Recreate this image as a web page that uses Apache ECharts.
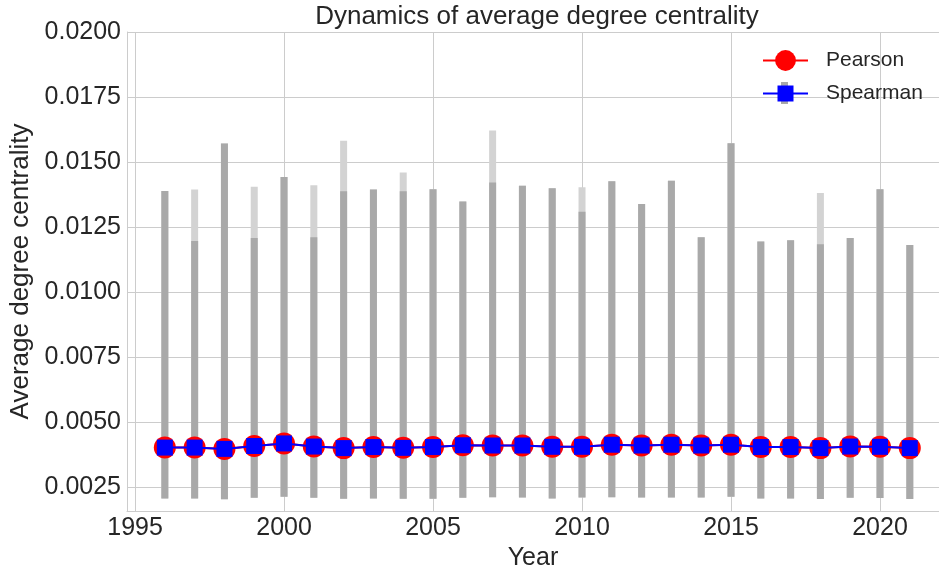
<!DOCTYPE html>
<html>
<head>
<meta charset="utf-8">
<script src="https://cdn.jsdelivr.net/npm/echarts@6/dist/echarts.min.js"></script>
<style>html,body{margin:0;padding:0;background:#fff;}#main{width:939px;height:571px;}</style>
</head>
<body>
<div id="main"></div>
<script>
const years = [1996,1997,1998,1999,2000,2001,2002,2003,2004,2005,2006,2007,2008,2009,2010,2011,2012,2013,2014,2015,2016,2017,2018,2019,2020,2021];
const pearsonMean = [0.00401,0.00401,0.00396,0.00407,0.00417,0.00405,0.00399,0.00403,0.00400,0.00403,0.00410,0.00409,0.00409,0.00404,0.00404,0.00412,0.00409,0.00412,0.00409,0.00412,0.00403,0.00403,0.00399,0.00405,0.00404,0.00399];
const spearmanMean = [0.00401,0.00401,0.00396,0.00407,0.00417,0.00405,0.00399,0.00403,0.00400,0.00403,0.00410,0.00409,0.00409,0.00404,0.00404,0.00412,0.00409,0.00412,0.00409,0.00412,0.00403,0.00403,0.00399,0.00405,0.00404,0.00399];
const pearsonLow = [0.00205,0.00205,0.00202,0.00208,0.00212,0.00208,0.00204,0.00205,0.00204,0.00204,0.00208,0.00210,0.00209,0.00205,0.00209,0.00210,0.00209,0.00209,0.00209,0.00212,0.00205,0.00205,0.00203,0.00208,0.00207,0.00203];
const pearsonHigh = [0.01388,0.01394,0.01571,0.01405,0.01442,0.01410,0.01582,0.01394,0.01459,0.01395,0.01348,0.01621,0.01408,0.01399,0.01403,0.01426,0.01338,0.01428,0.01210,0.01572,0.01194,0.01199,0.01381,0.01207,0.01395,0.01180];
const spearmanLow = [0.00205,0.00205,0.00202,0.00208,0.00212,0.00208,0.00204,0.00205,0.00204,0.00204,0.00208,0.00210,0.00209,0.00205,0.00209,0.00210,0.00209,0.00209,0.00209,0.00212,0.00205,0.00205,0.00203,0.00208,0.00207,0.00203];
const spearmanHigh = [0.01388,0.01196,0.01571,0.01207,0.01442,0.01210,0.01387,0.01394,0.01387,0.01395,0.01348,0.01421,0.01408,0.01399,0.01308,0.01426,0.01338,0.01428,0.01210,0.01572,0.01194,0.01199,0.01183,0.01207,0.01395,0.01180];
const xTicks = [1995,2000,2005,2010,2015,2020];
const yTicks = [0.0025,0.0050,0.0075,0.0100,0.0125,0.0150,0.0175,0.0200];

const FONT = '"Liberation Sans", Arial, sans-serif';
const TXT = '#262626';
const GRIDC = '#cccccc';

function errBar(color) {
  return function (params, api) {
    const x = api.value(0);
    const lo = api.coord([x, api.value(1)]);
    const hi = api.coord([x, api.value(2)]);
    return {
      type: 'rect',
      shape: { x: hi[0] - 3.5, y: hi[1], width: 7, height: lo[1] - hi[1] },
      style: { fill: color }
    };
  };
}

const chart = echarts.init(document.getElementById('main'), null, { renderer: 'canvas' });
chart.setOption({
  backgroundColor: '#ffffff',
  animation: false,
  textStyle: { fontFamily: FONT, color: TXT },
  title: {
    text: 'Dynamics of average degree centrality',
    left: 537, top: 4, textAlign: 'center', padding: 0,
    textStyle: { fontFamily: FONT, fontSize: 26, fontWeight: 'normal', color: TXT }
  },
  legend: [
    {
      data: ['Pearson'], left: 762, top: 50, orient: 'vertical', padding: 0,
      itemWidth: 45, itemHeight: 26,
      textStyle: { fontFamily: FONT, fontSize: 21, color: TXT, padding: [0, 0, 0, 13] }
    },
    {
      data: ['Spearman'], left: 762, top: 83, orient: 'vertical', padding: 0,
      itemWidth: 45, itemHeight: 20,
      textStyle: { fontFamily: FONT, fontSize: 21, color: TXT, padding: [0, 0, 0, 13] }
    }
  ],
  graphic: [
    { type: 'rect', left: 781, top: 82, z: 0, shape: { width: 7, height: 22 }, style: { fill: '#a9a9a9' } }
  ],
  grid: { left: 127, right: 0, top: 32, bottom: 60, containLabel: false, outerBoundsMode: 'none' },
  xAxis: {
    type: 'value', min: 1994.73, max: 2021.98,
    name: 'Year', nameLocation: 'middle', nameGap: 28,
    nameTextStyle: { fontFamily: FONT, fontSize: 25, color: TXT },
    axisLine: { show: true, lineStyle: { color: GRIDC, width: 1 } },
    axisTick: { show: false, customValues: xTicks },
    axisLabel: { customValues: xTicks, fontFamily: FONT, fontSize: 25, color: TXT, margin: 5, formatter: v => String(v) },
    splitLine: { show: true, lineStyle: { color: GRIDC, width: 1 } }
  },
  yAxis: {
    type: 'value', min: 0.00157, max: 0.0200,
    name: 'Average degree centrality', nameLocation: 'middle', nameGap: 88, nameRotate: 90,
    nameTextStyle: { fontFamily: FONT, fontSize: 26, color: TXT },
    axisLine: { show: true, lineStyle: { color: GRIDC, width: 1 } },
    axisTick: { show: false, customValues: yTicks },
    axisLabel: { customValues: yTicks, fontFamily: FONT, fontSize: 25, color: TXT, margin: 6, formatter: v => v.toFixed(4) },
    splitLine: { show: true, lineStyle: { color: GRIDC, width: 1 } }
  },
  series: [
    {
      name: 'PearsonErr', type: 'custom', z: 1, silent: true,
      renderItem: errBar('#d3d3d3'),
      encode: { x: 0, y: [1, 2] },
      data: years.map((y, i) => [y, pearsonLow[i], pearsonHigh[i]])
    },
    {
      name: 'SpearmanErr', type: 'custom', z: 2, silent: true,
      renderItem: errBar('#a9a9a9'),
      encode: { x: 0, y: [1, 2] },
      data: years.map((y, i) => [y, spearmanLow[i], spearmanHigh[i]])
    },
    {
      name: 'Pearson', type: 'line', z: 3,
      data: years.map((y, i) => [y, pearsonMean[i]]),
      symbol: 'circle', symbolSize: 22,
      lineStyle: { color: '#ff0000', width: 2 },
      itemStyle: { color: '#ff0000' }
    },
    {
      name: 'Spearman', type: 'line', z: 4,
      data: years.map((y, i) => [y, spearmanMean[i]]),
      symbol: 'rect', symbolSize: 16,
      lineStyle: { color: '#0000ff', width: 2 },
      itemStyle: { color: '#0000ff' }
    }
  ]
});
</script>
</body>
</html>
